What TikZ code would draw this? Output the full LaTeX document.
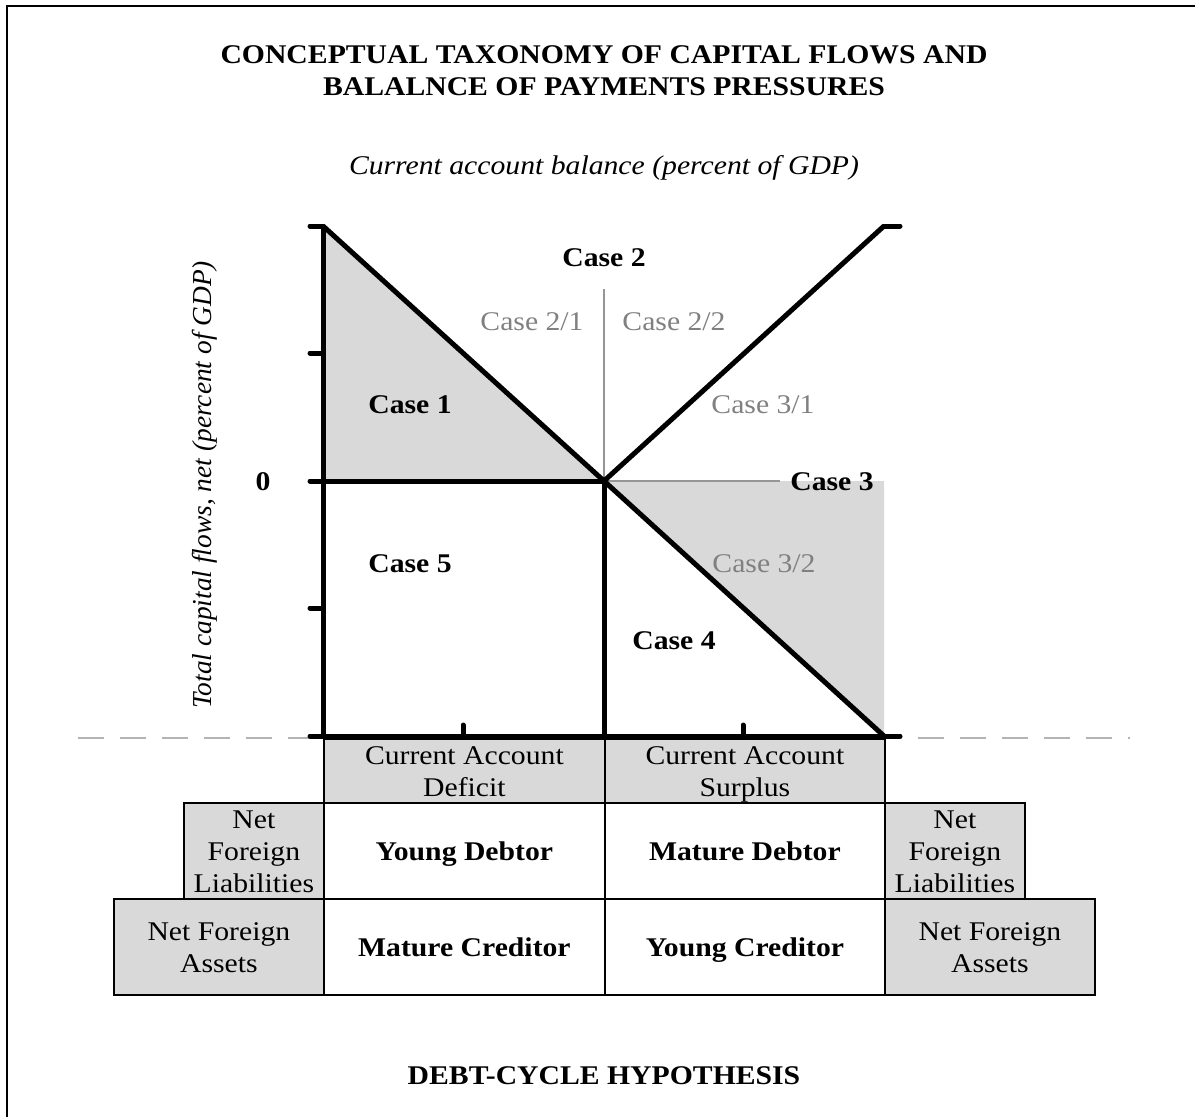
\documentclass[tikz,border=0pt]{standalone}
\usepackage{fontspec}
\setmainfont{Liberation Serif}[FakeStretch=1.1]
\newfontfamily\plainserif{Liberation Serif}
\newcommand\myfs{\fontsize{27}{32}\selectfont}
\newcommand\cs{\rule[-6.5pt]{0pt}{32pt}}
\definecolor{fillgray}{RGB}{217,217,217}
\definecolor{textgray}{RGB}{128,128,128}
\definecolor{linegray}{RGB}{150,150,150}
\definecolor{dashgray}{RGB}{180,180,180}
\tikzset{
  frameline/.style={line width=1.5pt},
  axisline/.style={line width=5pt},
  tickline/.style={line width=5pt, line cap=round},
  gline/.style={draw=linegray, line width=2pt},
  gfill/.style={fill=fillgray},
  dashline/.style={draw=dashgray, line width=1.5pt, dash pattern=on 26pt off 16pt},
  titlelbl/.style={font=\bfseries\myfs, anchor=base, inner sep=0pt},
  boldlbl/.style={font=\bfseries\myfs, anchor=base, inner sep=0pt},
  graylbl/.style={text=textgray, font=\myfs, anchor=base, inner sep=0pt},
  itallbl/.style={font=\itshape\myfs, inner sep=0pt},
  cell/.style={draw, line width=1.8pt, inner sep=0pt, align=center, font=\myfs, anchor=north west},
  graycell/.style={cell, fill=fillgray},
  boldcell/.style={cell, fill=white, font=\bfseries\myfs},
}
\begin{document}
\begin{tikzpicture}[x=1pt,y=-1pt]
\useasboundingbox (0,0) rectangle (1195,1117);
% frame
\draw[frameline] (7,1117) -- (7,6) -- (1195,6);

% titles
\node[titlelbl] (t1) at (604,63) {CONCEPTUAL TAXONOMY OF CAPITAL FLOWS AND};
\node[titlelbl] (t2) at (604,95) {BALALNCE OF PAYMENTS PRESSURES};
\node[itallbl, anchor=base] (sub) at (604,174) {Current account balance (percent of GDP)};
\node[itallbl, font=\plainserif\itshape\fontsize{27.4}{32}\selectfont, rotate=90] (ylab) at (205,485) {Total capital flows, net (percent of GDP)};

% chart coordinates
\coordinate (TL) at (323,226);
\coordinate (O) at (604,481);
\coordinate (L0) at (323,481);
\coordinate (BL) at (323,736);
\coordinate (BM) at (604,736);
\coordinate (BR) at (884,736);
\coordinate (TR) at (884,226);
\coordinate (R0) at (884,481);

% gray fills
\fill[gfill] (TL) -- (O) -- (L0) -- cycle;
\fill[gfill] (O) -- (R0) -- (BR) -- cycle;

% gray thin lines
\draw[gline] (604,289) -- (O);
\draw[gline] (O) -- (780,481);

% dashed separator
\draw[dashline] (78,738) -- (1130,738);

% table
\node[graycell, minimum width=281pt, minimum height=64pt] (cad) at (323,738) {\cs Current Account\\\cs Deficit};
\node[graycell, minimum width=280pt, minimum height=64pt] (cas) at (604,738) {\cs Current Account\\\cs Surplus};
\node[graycell, minimum width=140pt, minimum height=96pt] (nfl1) at (183,802) {\cs Net\\\cs Foreign\\\cs Liabilities};
\node[boldcell, minimum width=281pt, minimum height=96pt] (yd) at (323,802) {\cs Young Debtor};
\node[boldcell, minimum width=280pt, minimum height=96pt] (md) at (604,802) {\cs Mature Debtor};
\node[graycell, minimum width=140pt, minimum height=96pt] (nfl2) at (884,802) {\cs Net\\\cs Foreign\\\cs Liabilities};
\node[graycell, minimum width=210pt, minimum height=96pt] (nfa1) at (113,898) {\cs Net Foreign\\\cs Assets};
\node[boldcell, minimum width=281pt, minimum height=96pt] (mc) at (323,898) {\cs Mature Creditor};
\node[boldcell, minimum width=280pt, minimum height=96pt] (yc) at (604,898) {\cs Young Creditor};
\node[graycell, minimum width=210pt, minimum height=96pt] (nfa2) at (884,898) {\cs Net Foreign\\\cs Assets};

% thick axes and lines
\draw[axisline] (TL) -- (BL);
\draw[axisline] (O) -- (BM);
\draw[axisline] (TL) -- (O) -- (BR);
\draw[axisline] (O) -- (TR);
\draw[tickline] (TR) -- (900,226);
\draw[tickline] (310,481) -- (O);
\draw[tickline] (310,736) -- (900,736);
% ticks
\draw[tickline] (310,226) -- (TL);
\draw[tickline] (310,353) -- (323,353);
\draw[tickline] (310,608) -- (323,608);
\draw[tickline] (463,736) -- (463,725);
\draw[tickline] (743,736) -- (743,725);

% labels
\node[boldlbl] (c2) at (604,266) {Case 2};
\node[graylbl] (c21) at (532,330) {Case 2/1};
\node[graylbl] (c22) at (674,330) {Case 2/2};
\node[boldlbl] (c1) at (410,413) {Case 1};
\node[graylbl] (c31) at (763,413) {Case 3/1};
\node[boldlbl] (zero) at (263,490) {0};
\node[boldlbl] (c3) at (832,490) {Case 3};
\node[boldlbl] (c5) at (410,572) {Case 5};
\node[graylbl] (c32) at (764,572) {Case 3/2};
\node[boldlbl] (c4) at (674,649) {Case 4};

\node[titlelbl] (foot) at (604,1084) {DEBT-CYCLE HYPOTHESIS};
\end{tikzpicture}
\end{document}
